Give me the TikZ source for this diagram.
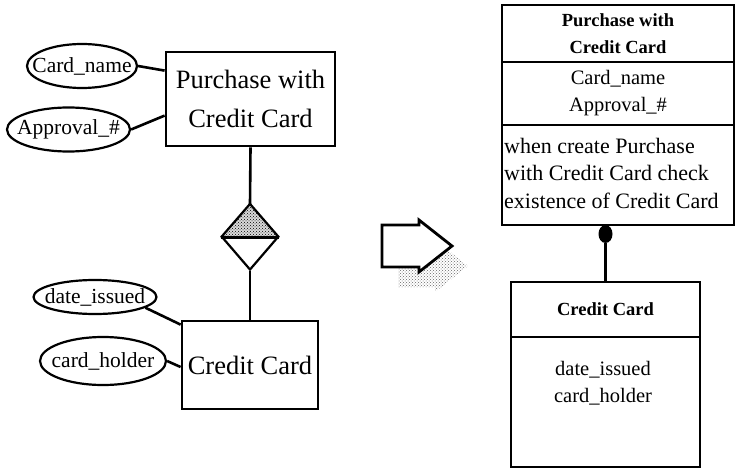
\documentclass[tikz,border=0pt]{standalone}
\usepackage{fontspec}
\setmainfont{Liberation Serif}
\usetikzlibrary{shapes.geometric,patterns}

\begin{document}
\begin{tikzpicture}[x=1pt,y=-1pt,
  erbox/.style={draw, line width=2.8pt, inner sep=0pt, align=center,
    font=\fontsize{26.5}{39}\selectfont},
  attrib/.style={ellipse, draw, line width=2.2pt, inner sep=0pt,
    font=\fontsize{21.5}{26}\selectfont},
  link/.style={line width=2.6pt},
  umlbox/.style={draw, line width=2.4pt, inner sep=0pt, align=center},
  umltitle/.style={font=\bfseries\fontsize{18.5}{27}\selectfont},
  umlattr/.style={font=\fontsize{20.5}{27}\selectfont}]

\useasboundingbox (0,0) rectangle (735,470);

% ---------- ER notation ----------
\node[erbox, minimum width=169pt, minimum height=94pt] (pw) at (250.5,99)
  {Purchase with\\Credit Card};
\node[attrib, minimum width=110pt, minimum height=44pt] (cn) at (82,66)
  {\makebox[0pt]{Card\_name}};
\node[attrib, minimum width=123pt, minimum height=44pt] (ap) at (68.5,129.5)
  {\makebox[0pt]{Approval\_\#}};

\node[diamond, draw, line width=2.2pt, inner sep=0pt,
  minimum width=56pt, minimum height=65pt] (rel) at (250,237.5) {};
\fill[gray!30] (rel.north) -- (rel.east) -- (rel.west) -- cycle;
\fill[pattern=crosshatch dots] (rel.north) -- (rel.east) -- (rel.west) -- cycle;
\draw[line width=2.2pt] (rel.north) -- (rel.east) (rel.north) -- (rel.west);
\draw[line width=3.8pt] (rel.west) -- (rel.east);

\node[erbox, minimum width=136pt, minimum height=88pt] (cc) at (250,365)
  {Credit Card};
\node[attrib, minimum width=123pt, minimum height=34pt] (di) at (95,297)
  {\makebox[0pt]{date\_issued}};
\node[attrib, minimum width=126pt, minimum height=48pt] (ch) at (103,361)
  {\makebox[0pt]{card\_holder}};

\draw[link] (cn.east) -- ([yshift=-20pt]pw.north west);
\draw[link] (ap.east) -- ([yshift=-65pt]pw.north west);
\draw[link] (pw.south) -- (rel.north);
\draw[link] (rel.south) -- (cc.north);
\draw[link] (di.-12) -- ([yshift=-5pt]cc.north west);
\draw[link] (ch.east) -- ([yshift=-2pt]cc.west);

% ---------- transformation arrow with stippled shadow ----------
\fill[pattern=crosshatch dots, pattern color=gray!80!black, shift={(16,20)}]
  (382,225) -- (419,225) -- (419,220) -- (452,246) -- (419,272)
  -- (419,267) -- (382,267) -- cycle;
\draw[line width=2.8pt, fill=white, line join=miter]
  (382,225) -- (419,225) -- (419,220) -- (452,246) -- (419,272)
  -- (419,267) -- (382,267) -- cycle;

% ---------- class notation ----------
\node[umlbox, umltitle, minimum width=232pt, minimum height=57pt] (hd) at (618,33.5)
  {Purchase with\\Credit Card};
\node[umlbox, umlattr, minimum width=232pt, minimum height=63pt] (at) at (618,93.5)
  {Card\_name\\Approval\_\#};
\node[umlbox, minimum width=232pt, minimum height=100pt] (op) at (618,175) {};
\node[anchor=west, align=left, inner sep=0pt,
  font=\fontsize{22}{27.5}\selectfont] (optext) at (504,173)
  {when create Purchase\\with Credit Card check\\existence of Credit Card};

\node[umlbox, umltitle, minimum width=189pt, minimum height=55pt] (c2h) at (605.5,309.5)
  {Credit Card};
\node[umlbox, minimum width=189pt, minimum height=130pt] (c2b) at (605.5,402) {};
\node[umlattr, align=center, inner sep=0pt] (c2t) at (603,383)
  {date\_issued\\card\_holder};

\node[ellipse, fill, inner sep=0pt, minimum width=14pt, minimum height=18pt]
  (dot) at (605.5,234) {};
\draw[line width=3pt] (dot) -- (c2h.north);

\end{tikzpicture}
\end{document}
